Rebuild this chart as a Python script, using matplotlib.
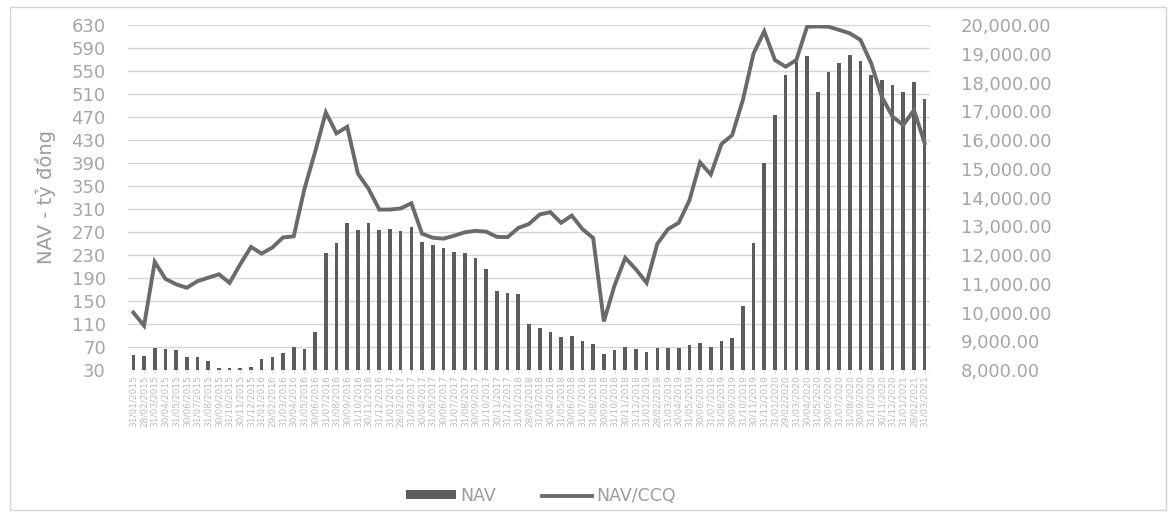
import matplotlib
matplotlib.use("Agg")
import matplotlib.pyplot as plt
import matplotlib.patches as patches
from matplotlib.ticker import FuncFormatter

# month-end dates on the x axis (illegible in the source, kept as monthly dates)
dates = [
    "31/01/2015", "28/02/2015", "31/03/2015", "30/04/2015", "31/05/2015", "30/06/2015",
    "31/07/2015", "31/08/2015", "30/09/2015", "31/10/2015", "30/11/2015", "31/12/2015",
    "31/01/2016", "29/02/2016", "31/03/2016", "30/04/2016", "31/05/2016", "30/06/2016",
    "31/07/2016", "31/08/2016", "30/09/2016", "31/10/2016", "30/11/2016", "31/12/2016",
    "31/01/2017", "28/02/2017", "31/03/2017", "30/04/2017", "31/05/2017", "30/06/2017",
    "31/07/2017", "31/08/2017", "30/09/2017", "31/10/2017", "30/11/2017", "31/12/2017",
    "31/01/2018", "28/02/2018", "31/03/2018", "30/04/2018", "31/05/2018", "30/06/2018",
    "31/07/2018", "31/08/2018", "30/09/2018", "31/10/2018", "30/11/2018", "31/12/2018",
    "31/01/2019", "28/02/2019", "31/03/2019", "30/04/2019", "31/05/2019", "30/06/2019",
    "31/07/2019", "31/08/2019", "30/09/2019", "31/10/2019", "30/11/2019", "31/12/2019",
    "31/01/2020", "29/02/2020", "31/03/2020", "30/04/2020", "31/05/2020", "30/06/2020",
    "31/07/2020", "31/08/2020", "30/09/2020", "31/10/2020", "30/11/2020", "31/12/2020",
    "31/01/2021", "28/02/2021", "31/03/2021",
]

# NAV (ty dong), left axis
nav = [
    56, 55, 68, 66, 65, 52, 52, 45, 33, 33, 33, 35, 50, 52, 59, 70, 66, 96, 234, 251,
    286, 274, 286, 274, 275, 272, 278, 253, 248, 242, 235, 234, 224, 206, 168, 164, 163, 110, 103, 96,
    88, 90, 80, 76, 57, 65, 70, 67, 61, 68, 69, 69, 74, 77, 70, 81, 85, 142, 250, 390,
    473, 543, 566, 576, 514, 549, 564, 578, 567, 543, 534, 526, 514, 530, 501,
]

# NAV/CCQ (dong), right axis
nav_ccq = [
    10000, 9540, 11760, 11170, 10980, 10860, 11090, 11210, 11330, 11030,
    11680, 12280, 12050, 12260, 12610, 12650, 14300, 15590, 16960, 16230,
    16460, 14830, 14300, 13580, 13580, 13620, 13800, 12740, 12600, 12570,
    12670, 12790, 12840, 12810, 12630, 12620, 12940, 13080, 13410, 13490,
    13120, 13370, 12900, 12590, 9690, 10940, 11900, 11500, 11030, 12390,
    12900, 13120, 13900, 15220, 14800, 15860, 16170, 17390, 19010, 19780,
    18780, 18550, 18780, 19940, 19950, 19940, 19830, 19710, 19480, 18670,
    17500, 16810, 16520, 17040, 15890,
]

left_ticks = list(range(30, 631, 40))
right_ticks = list(range(8000, 20001, 1000))

W, H = 1172, 517
fig = plt.figure(figsize=(W / 100, H / 100), dpi=100)
ax = fig.add_axes([128 / W, 1 - 370 / H, (930 - 128) / W, (370 - 25) / H])
ax2 = ax.twinx()

x = list(range(len(dates)))
bar_color = "#5c5c5c"
line_color = "#6a6a6a"
label_color = "#a6a6a6"

ax.bar(x, nav, width=0.34, color=bar_color, label="NAV", zorder=2)
ax2.plot(x, nav_ccq, color=line_color, linewidth=2.8, label="NAV/CCQ",
         solid_joinstyle="miter", zorder=3)

ax.set_xlim(-0.5, len(dates) - 0.5)
ax.set_ylim(30, 630)
ax2.set_ylim(8000, 20000)
ax.set_yticks(left_ticks)
ax2.set_yticks(right_ticks)
ax2.yaxis.set_major_formatter(FuncFormatter(lambda v, p: f"{v:,.2f}"))

ax.grid(axis="y", color="#d6d6d6", linewidth=1.0, zorder=0)
ax.set_axisbelow(True)
for a in (ax, ax2):
    for s in a.spines.values():
        s.set_visible(False)

ax.tick_params(axis="y", length=0, pad=16, labelsize=13, labelcolor=label_color)
ax2.tick_params(axis="y", length=0, pad=22, labelsize=13, labelcolor=label_color)
ax.set_xticks(x)
ax.set_xticklabels(dates, rotation=90, fontsize=6.5, color="#bcbcbc")
ax.tick_params(axis="x", length=2, color="#d0d0d0", pad=2)

ax.set_ylabel("NAV - tỷ đồng", fontsize=14, color="#9c9c9c")
ax.yaxis.set_label_coords(-0.09, 0.5)

h1, l1 = ax.get_legend_handles_labels()
h2, l2 = ax2.get_legend_handles_labels()
fig.legend(h1 + h2, l1 + l2, loc="center", bbox_to_anchor=(541 / W, 1 - 496 / H),
           ncol=2, frameon=False, fontsize=12.5, labelcolor="#9c9c9c",
           handlelength=2.9, handleheight=0.45, handletextpad=0.25, columnspacing=2.6)

# outer chart frame
fig.patches.append(patches.Rectangle((10 / W, 7 / H), (1166 - 10) / W, (510 - 7) / H,
                                     transform=fig.transFigure, fill=False,
                                     edgecolor="#d4d4d4", linewidth=1.0))

fig.savefig("out.png", dpi=100)
